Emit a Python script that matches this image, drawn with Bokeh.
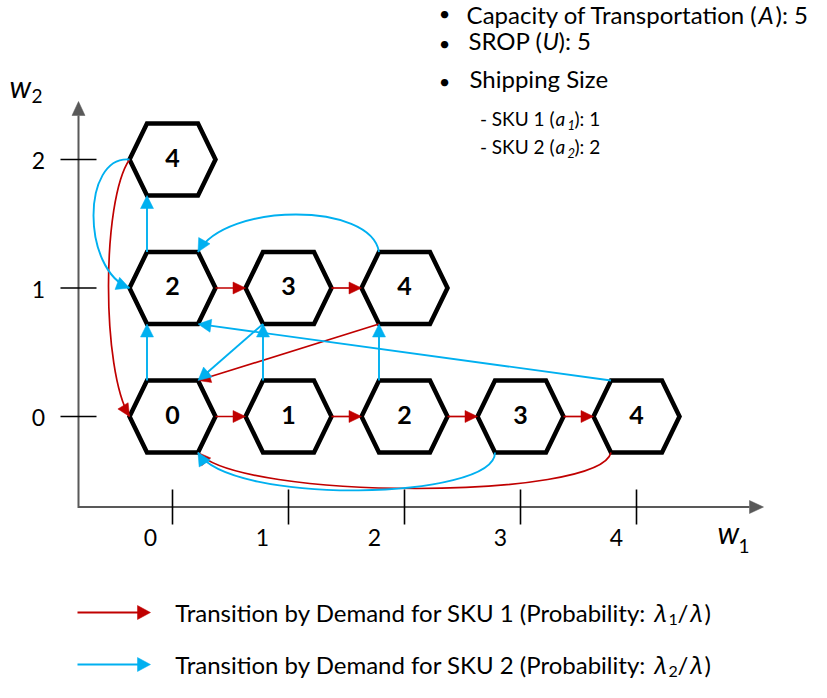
import numpy as np
from bokeh.plotting import figure
from bokeh.models import Range1d
from bokeh.core.properties import value
from bokeh.embed import file_html
from bokeh.resources import INLINE

# ---------------- data ----------------
node_w1 = [0, 1, 2, 3, 4, 0, 1, 2, 0]
node_w2 = [0, 0, 0, 0, 0, 1, 1, 1, 2]
node_label = ["0", "1", "2", "3", "4", "2", "3", "4", "4"]

x_ticks = [0, 1, 2, 3, 4]
x_tick_labels = ["0", "1", "2", "3", "4"]
y_ticks = [0, 1, 2]
y_tick_labels = ["0", "1", "2"]

# transitions (from (w1,w2) -> to (w1,w2))
sku1_from = [(0, 0), (1, 0), (2, 0), (3, 0), (4, 0), (0, 1), (1, 1), (2, 1), (0, 2)]
sku1_to = [(1, 0), (2, 0), (3, 0), (4, 0), (0, 0), (1, 1), (2, 1), (0, 0), (0, 0)]
sku2_from = [(0, 0), (1, 0), (2, 0), (3, 0), (4, 0), (0, 1), (1, 1), (2, 1), (0, 2)]
sku2_to = [(0, 1), (1, 1), (2, 1), (0, 0), (0, 1), (0, 2), (0, 0), (0, 1), (0, 1)]

legend_main = ["Transition by Demand for SKU 1 (Probability: ",
               "Transition by Demand for SKU 2 (Probability: "]
legend_sub = ["1", "2"]

# ---------------- layout / style ----------------
RED = "#C00000"
BLUE = "#00B0F0"
FONT = "Lato"
X0, SX = 172.0, 116.0      # pixel of w1=0, pixels per unit
Y0, SY = 416.0, 128.5      # pixel of w2=0, pixels per unit


def dx(X):
    return (X - X0) / SX


def dy(Y):
    return (Y0 - Y) / SY


W, H = 811, 682
p = figure(width=W, height=H, output_backend="svg", toolbar_location=None,
           x_range=Range1d(dx(0), dx(W)), y_range=Range1d(dy(H), dy(0)),
           x_axis_location=None, y_axis_location=None, min_border=0)
p.grid.visible = False
p.outline_line_color = None


def head(tip, d, color, L=13.0, hw=6.5):
    d = np.asarray(d, float)
    d = d / np.hypot(*d)
    n = np.array([-d[1], d[0]])
    b = np.asarray(tip, float) - L * d
    pts = [tip, b + hw * n, b - hw * n]
    p.patch([dx(q[0]) for q in pts], [dy(q[1]) for q in pts], fill_color=color,
            line_color=color, line_width=0.5)


def T(X, Y, s, size, align="left", style="normal", font=FONT, color="black"):
    p.text(x=[dx(X)], y=[dy(Y)], text=[s], text_font=value(font),
           text_font_size=value(f"{size}px"), text_font_style=style,
           text_align=align, text_baseline="middle", text_color=color)


# ---- axes ----
AX_X, AX_Y = 78, 506.5
AXC = "#595959"
p.line([dx(AX_X), dx(749)], [dy(AX_Y), dy(AX_Y)], line_color=AXC, line_width=2)
head((763, AX_Y), (1, 0), AXC, L=14, hw=6.5)
p.line([dx(AX_X), dx(AX_X)], [dy(AX_Y + 1), dy(115)], line_color=AXC, line_width=2)
head((AX_X, 101), (0, -1), AXC, L=14, hw=6.5)
p.segment(x0=x_ticks, y0=[dy(489)] * 5, x1=x_ticks, y1=[dy(524)] * 5,
          line_color="black", line_width=1.6)
p.segment(x0=[dx(60)] * 3, y0=y_ticks, x1=[dx(96)] * 3, y1=y_ticks,
          line_color="black", line_width=1.6)
x_lab_off = [-22, -26, -30, -20, -20]
for t, lab, o in zip(x_ticks, x_tick_labels, x_lab_off):
    T(X0 + SX * t + o, 537, lab, 23, align="center")
for t, lab in zip(y_ticks, y_tick_labels):
    T(38, Y0 - SY * t + 1, lab, 23, align="center")
T(9, 85, "w", 30, style="italic")
T(31, 95, "2", 19)
T(717, 531, "w", 30, style="italic")
T(738, 545, "1", 19)

# ---- hexagons ----
HW, HT, HH = 43.0, 25.5, 36.0
VOFF = {"R": (HW, 0), "L": (-HW, 0), "TL": (-HT, -HH), "TR": (HT, -HH),
        "BL": (-HT, HH), "BR": (HT, HH)}
hex_ox = [HW, HT, -HT, -HW, -HT, HT]
hex_oy = [0, -HH, -HH, 0, HH, HH]
xs = [[w1 + o / SX for o in hex_ox] for w1 in node_w1]
ys = [[w2 - o / SY for o in hex_oy] for w2 in node_w2]
p.patches(xs, ys, fill_color="white", line_color="black", line_width=4.5,
          line_join="miter")
p.text(x=node_w1, y=[w2 + 2 / SY for w2 in node_w2], text=node_label,
       text_font=value(FONT), text_font_size=value("25px"), text_font_style="bold",
       text_align="center", text_baseline="middle", text_color="black")

# ---- transitions ----
special = {
    (1, (4, 0), (0, 0)): ("BL", "BR", (-11, 48), (42, 48)),
    (1, (2, 1), (0, 0)): ("BL", "TR", None, None),
    (1, (0, 2), (0, 0)): ("L", "L", (-28, 41), (-28, -46)),
    (2, (3, 0), (0, 0)): ("BL", "BR", (0, 48), (32, 53)),
    (2, (4, 0), (0, 1)): ("TL", "BR", None, None),
    (2, (1, 1), (0, 0)): ("BL", "TR", None, None),
    (2, (2, 1), (0, 1)): ("TL", "TR", (-8, -50), (28, -50)),
    (2, (0, 2), (0, 1)): ("L", "L", (-48, -4), (-48, -18)),
}


def route(sku, s, d):
    if sku == 1 and d[1] == s[1] and d[0] == s[0] + 1:
        return ("R", "L", None, None)
    if sku == 2 and d[0] == s[0] and d[1] == s[1] + 1:
        return ("TL", "BL", None, None)
    return special[(sku, s, d)]


def pix(node, v):
    return np.array([X0 + SX * node[0] + VOFF[v][0], Y0 - SY * node[1] + VOFF[v][1]])


for sku, froms, tos, color, lw, L, hw in [(1, sku1_from, sku1_to, RED, 1.7, 12.5, 6.0),
                                          (2, sku2_from, sku2_to, BLUE, 1.9, 13.0, 6.5)]:
    for s, d in zip(froms, tos):
        sv, ev, c0, c1 = route(sku, s, d)
        a, b = pix(s, sv), pix(d, ev)
        if c0 is None:
            u = (b - a) / np.hypot(*(b - a))
            e = b - 0.8 * L * u
            p.line([dx(a[0]), dx(e[0])], [dy(a[1]), dy(e[1])], line_color=color,
                   line_width=lw)
            head(b, b - a, color, L, hw)
        else:
            P1 = a + np.array(c0)
            P2 = b + np.array(c1)
            p.bezier(x0=[dx(a[0])], y0=[dy(a[1])], x1=[dx(b[0])], y1=[dy(b[1])],
                     cx0=[dx(P1[0])], cy0=[dy(P1[1])], cx1=[dx(P2[0])], cy1=[dy(P2[1])],
                     line_color=color, line_width=lw)
            head(b, b - P2, color, L, hw)

# ---- parameter box (top right) ----
S = -8   # shift of the block so that it fits in the canvas
BUL_X = 452 + S
for yc in [12.5, 42.5, 80.5]:
    T(BUL_X, yc, "•", 20, align="center")
T(766 + S, 14, "Capacity of Transportation (", 24, align="right")
T(766 + S, 14, "A", 24, style="italic")
T(783 + S, 14, "): 5", 24)
T(550 + S, 40, "SROP (", 24, align="right")
T(550 + S, 40, "U", 24, style="italic")
T(566 + S, 40, "): 5", 24)
T(477 + S, 78, "Shipping Size", 24)
for yc, sub, val in [(118, "1", "1"), (146, "2", "2")]:
    T(562 + S, yc, "- SKU " + sub + " (", 19, align="right")
    T(563 + S, yc, "a", 19, style="italic")
    T(575 + S, yc + 6, sub, 13, style="italic")
    T(582 + S, yc, "): " + val, 19)

# ---- legend ----
for i, (yc, color) in enumerate([(612, RED), (664, BLUE)]):
    p.line([dx(77), dx(139)], [dy(yc), dy(yc)], line_color=color, line_width=2)
    head((150, yc), (1, 0), color, L=13, hw=7)
    T(652, yc, legend_main[i], 24, align="right")
    T(654, yc, "λ", 24, style="italic", font="Noto Sans")
    T(668, yc + 7, legend_sub[i], 16)
    T(677, yc, "/", 24)
    T(690, yc, "λ", 24, style="italic", font="Noto Sans")
    T(704, yc, ")", 24)

open("out.html", "w").write(file_html(p, INLINE))
